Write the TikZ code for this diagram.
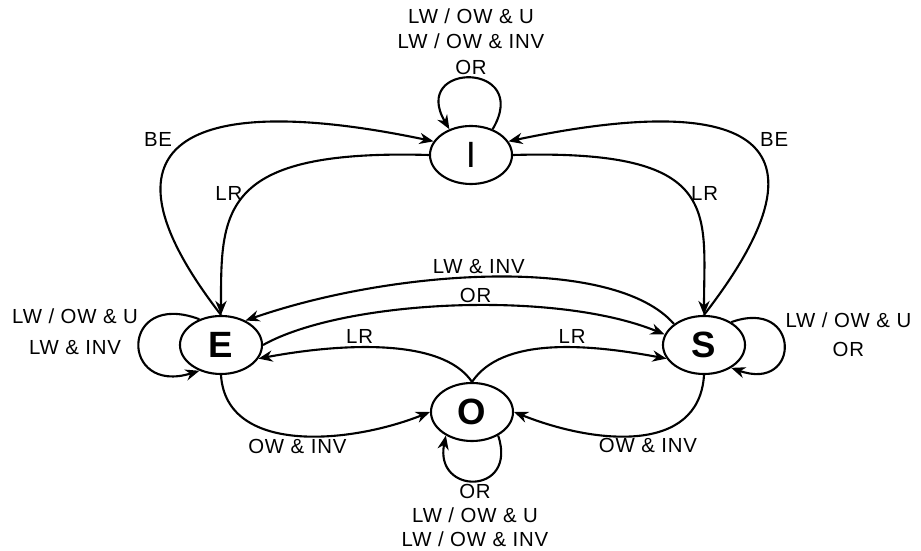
\documentclass[tikz,border=0pt]{standalone}
\usepackage{fontspec}
\setmainfont{Liberation Sans}[LetterSpace=4]
\usepackage{tikz}
\usetikzlibrary{shapes,arrows,arrows.meta}

\begin{document}
\begin{tikzpicture}[
	x=0.025cm, y=0.025cm,
	stbox/.style={ellipse, draw, line width=1.5pt, minimum width=2.05cm, minimum height=1.45cm, inner sep=0, font=\fontsize{26}{26}\selectfont\bfseries},
	trans/.style={line width=1.5pt, -{Stealth[length=10pt,width=8pt]}},
	lbl/.style={font=\fontsize{14.5}{17}\selectfont, inner sep=2pt, align=center}
]
\useasboundingbox (0,0) rectangle (921,551);

\node[stbox, font=\fontsize{26}{26}\selectfont] (I) at (471, 396) {I};
\node[stbox] (E) at (221, 206) {E};
\node[stbox] (S) at (704, 206) {S};
\node[stbox] (O) at (472, 139) {O};

\draw[trans] (E.north) .. controls +(-141,182) and +(-233,49) .. (I.160) node[lbl, pos=0.45, above left] {BE};
\draw[trans] (S.north) .. controls +(141,182) and +(233,49) .. (I.20) node[lbl, pos=0.45, above right] {BE};
\draw[trans] (I.180) .. controls +(-210,6) and +(0,104) .. (E.north) node[lbl, pos=0.5, left] {LR};
\draw[trans] (I.0) .. controls +(210,6) and +(0,104) .. (S.north) node[lbl, pos=0.5, right] {LR};

\draw[trans] (S.145) .. controls +(-60,69) and +(150,52) .. (E.45) node[lbl, pos=0.53, above] {LW \& INV};
\draw[trans] (E.0) .. controls +(80,45) and +(-110,45) .. (S.165) node[lbl, pos=0.55, above, inner sep=1pt] {OR};
\draw[trans] (O.north) .. controls +(-30,45) and +(80,15) .. (E.340) node[lbl, pos=0.6, above] {LR};
\draw[trans] (O.north) .. controls +(30,45) and +(-80,15) .. (S.200) node[lbl, pos=0.6, above] {LR};

\draw[trans] (E.south) .. controls +(5,-80) and +(-80,-32) .. (O.180) node[lbl, pos=0.5, below] {OW \& INV};
\draw[trans] (S.south) .. controls +(-5,-80) and +(80,-32) .. (O.0) node[lbl, pos=0.45, below] {OW \& INV};

\draw[trans] (I.50) .. controls +(40,68) and +(-40,68) .. (I.130) node[lbl, pos=0.5, above, font=\fontsize{14.5}{18}\selectfont] {LW / OW \& U\\LW / OW \& INV\\OR};
\draw[trans] (E.130) .. controls +(-80,30) and +(-80,-25) .. (E.230) node[lbl, pos=0.4, left, font=\fontsize{14.5}{22}\selectfont] {LW / OW \& U\\LW \& INV};
\draw[trans] (S.40) .. controls +(70,25) and +(70,-25) .. (S.320) node[lbl, pos=0.4, right, font=\fontsize{14.5}{20.5}\selectfont] {LW / OW \& U\\OR};
\draw[trans] (O.318) .. controls +(20,-60) and +(-12,-60) .. (O.222) node[lbl, pos=0.5, below, font=\fontsize{14.5}{17}\selectfont] {OR\\LW / OW \& U\\LW / OW \& INV};
\end{tikzpicture}
\end{document}
